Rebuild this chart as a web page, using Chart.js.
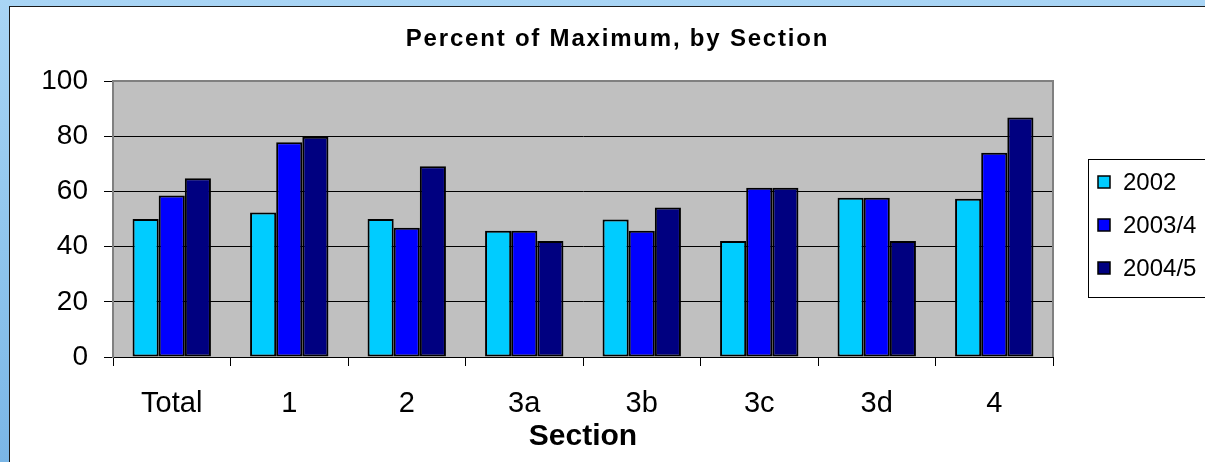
<!DOCTYPE html>
<html>
<head>
<meta charset="utf-8">
<script src="https://cdn.jsdelivr.net/npm/chart.js@4.4.1/dist/chart.umd.min.js"></script>
<style>
	html, body { margin: 0; padding: 0; width: 1205px; height: 462px; overflow: hidden; }
	body { background: linear-gradient(180deg, #a9d5f5 0%, #8cc3ec 60%, #7ab6e6 100%); }
	#frame { position: absolute; left: 9px; top: 6px; width: 1200px; height: 460px; background: #fff; border-left: 1px solid #1a1a1a; border-top: 1px solid #1a1a1a; }
	#chartbox { position: absolute; left: 0; top: 0; width: 1195px; height: 455px; }
	#charttitle { position: absolute; left: 0; top: 26px; width: 1235px; text-align: center; font: bold 24px 'Liberation Sans', Arial, sans-serif; line-height: 24px; letter-spacing: 1.8px; color: #000; white-space: nowrap; }
</style>
</head>
<body>
<div id="frame"><div id="chartbox"><canvas id="sectionplot"></canvas></div></div>
<div id="charttitle"></div>
<script>
const chartTitle = 'Percent of Maximum, by Section';
const sections = ['Total', '1', '2', '3a', '3b', '3c', '3d', '4']; // category labels
const pct2002 = [50, 52.4, 50, 45.7, 49.8, 42, 57.7, 57.3];
const pct2003 = [58.5, 77.8, 46.8, 45.7, 45.7, 61.3, 57.7, 74];
const pct2004 = [64.8, 79.8, 69.1, 42, 54.2, 61.3, 42, 86.8];
const seriesNames = ['2002', '2003/4', '2004/5'];
const seriesColors = ['#00ccff', '#0000ff', '#000080'];
const yTicks = [0, 20, 40, 60, 80, 100];
const fontName = "'Liberation Sans', Arial, sans-serif";
Chart.defaults.font.family = fontName;

document.getElementById('charttitle').textContent = chartTitle;

// Grey plot area behind the bars
const plotBackground = {
	id: 'plotBackground',
	beforeDraw(chart) {
		const {ctx, chartArea: a} = chart;
		ctx.save();
		ctx.fillStyle = '#c0c0c0';
		ctx.fillRect(a.left, a.top, a.right - a.left, a.bottom - a.top);
		ctx.restore();
	}
};

// Grey frame round the plot area and the boxed legend on the right
const plotFrameAndLegend = {
	id: 'plotFrameAndLegend',
	afterDraw(chart) {
		const {ctx, chartArea: a} = chart;
		ctx.save();
		ctx.strokeStyle = '#808080';
		ctx.lineWidth = 2;
		ctx.beginPath();
		ctx.moveTo(a.left, a.top);
		ctx.lineTo(a.right, a.top);
		ctx.lineTo(a.right, a.bottom);
		ctx.stroke();

		// legend box
		ctx.strokeStyle = '#000';
		ctx.lineWidth = 1;
		ctx.strokeRect(1078.5, 152.5, 130, 138);
		ctx.font = '24px ' + fontName;
		ctx.textBaseline = 'middle';
		ctx.textAlign = 'left';
		chart.data.datasets.forEach((ds, i) => {
			const cy = 175 + i * 43;
			ctx.fillStyle = ds.backgroundColor;
			ctx.fillRect(1088, cy - 6, 12, 12);
			ctx.strokeStyle = '#000';
			ctx.lineWidth = 1.5;
			ctx.strokeRect(1088, cy - 6, 12, 12);
			ctx.fillStyle = '#000';
			ctx.fillText(ds.label, 1113, cy + 1);
		});
		ctx.restore();
	}
};

const seriesData = [pct2002, pct2003, pct2004];

var sectionplot = new Chart('sectionplot', {
	type: 'bar',
	data: {
		labels: sections,
		datasets: seriesData.map((vals, i) => ({
			label: seriesNames[i],
			data: vals,
			backgroundColor: seriesColors[i],
			borderColor: '#000',
			borderWidth: 2,
			borderSkipped: false,
			barPercentage: 1,
			categoryPercentage: 0.667
		}))
	},
	options: {
		responsive: true,
		maintainAspectRatio: false,
		animation: false,
		layout: {
			padding: { left: 0, top: 74, right: 152, bottom: 0 }
		},
		plugins: {
			legend: { display: false },
			tooltip: { enabled: false },
			title: { display: false }
		},
		scales: {
			x: {
				offset: true,
				grid: {
					offset: true,
					drawOnChartArea: false,
					drawTicks: true,
					tickLength: 9,
					tickColor: '#000'
				},
				border: { color: '#000', width: 1 },
				ticks: {
					color: '#000',
					font: { size: 29 },
					padding: 21
				},
				title: {
					display: true,
					text: 'Section',
					color: '#000',
					font: { size: 30, weight: 'bold' },
					padding: { top: 0, bottom: 7 }
				},
				afterFit: function(scale) { scale.height = 105; }
			},
			y: {
				min: 0,
				max: 100,
				afterBuildTicks: function(scale) { scale.ticks = yTicks.map(v => ({ value: v })); },
				grid: {
					color: '#000',
					lineWidth: 1,
					tickLength: 9,
					tickColor: '#000'
				},
				border: { color: '#808080', width: 2 },
				ticks: {
					color: '#000',
					font: { size: 28 },
					padding: 16
				},
				afterFit: function(scale) { scale.width = 103; }
			}
		}
	},
	plugins: [plotBackground, plotFrameAndLegend]
});
</script>
</body>
</html>
